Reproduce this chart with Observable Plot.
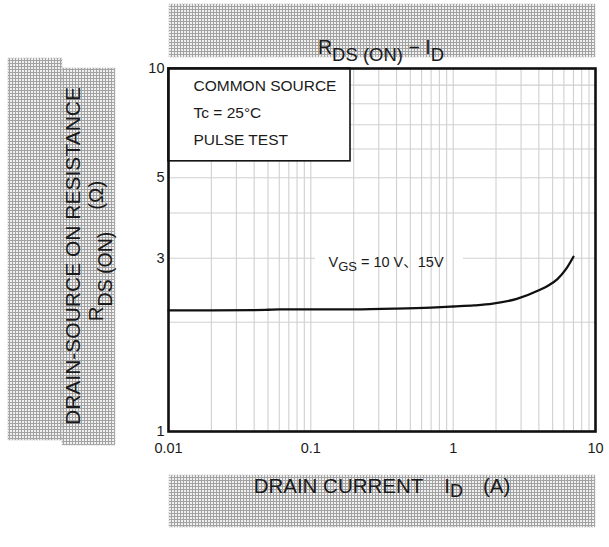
<!DOCTYPE html>
<html>
<head>
<meta charset="utf-8">
<script src="https://cdn.jsdelivr.net/npm/d3@7"></script>
<script src="https://cdn.jsdelivr.net/npm/@observablehq/plot@0.6"></script>
<style>
  html, body { margin: 0; padding: 0; background: #fff; }
  #chart { width: 609px; height: 547px; }
</style>
</head>
<body>
<div id="chart"></div>
<script>
// ---- data ----
const drainCurrent = [0.01, 0.02, 0.04, 0.05, 0.06, 0.1, 0.2, 0.4, 0.7, 1, 1.4, 1.9, 2.8, 4, 4.7, 5.4, 6.2, 7];
const rdsOn        = [2.155, 2.155, 2.16, 2.165, 2.17, 2.17, 2.17, 2.18, 2.195, 2.21, 2.225, 2.25, 2.32, 2.45, 2.53, 2.63, 2.8, 3.03];

const xTickValues = [0.01, 0.1, 1, 10];
const yTickValues = [1, 3, 5, 10];
const xGridValues = [0.02, 0.03, 0.04, 0.05, 0.06, 0.07, 0.08, 0.09, 0.1,
                     0.2, 0.3, 0.4, 0.5, 0.6, 0.7, 0.8, 0.9, 1,
                     2, 3, 4, 5, 6, 7, 8, 9];
const yGridValues = [2, 3, 4, 5, 6, 7, 8, 9];

const conditionLines = ["COMMON SOURCE", "Tc = 25°C", "PULSE TEST"];
const curveLabel = "VGS = 10 V、15V";
const conditionBox = [{x1: 0.01, x2: 0.19, y1: 5.55, y2: 10}];
const labelGap = [{x1: 0.108, x2: 1.18, y1: 2.95, y2: 3.05}];
const curveLabelAt = [{x: 0.133, y: 2.835}];

const points = drainCurrent.map((x, i) => ({x, y: rdsOn[i]}));

const FONT = "'Liberation Sans', Arial, 'Noto Sans CJK JP', sans-serif";
const GRID = "#d0d0d0";

const svg = Plot.plot({
  width: 609,
  height: 547,
  marginLeft: 168,
  marginRight: 14,
  marginTop: 68,
  marginBottom: 116,
  style: {fontFamily: FONT, fontSize: "14.5px", color: "#1a1a1a", background: "#fff"},
  x: {type: "log", domain: [0.01, 10]},
  y: {type: "log", domain: [1, 10]},
  marks: [
    Plot.ruleY(yGridValues, {stroke: GRID, strokeWidth: 1.1}),
    Plot.rect(labelGap, {x1: "x1", x2: "x2", y1: "y1", y2: "y2", fill: "#fff"}),
    Plot.ruleX(xGridValues, {stroke: GRID, strokeWidth: 1.1}),
    Plot.rect(conditionBox, {x1: "x1", x2: "x2", y1: "y1", y2: "y2", fill: "#fff", stroke: "#111", strokeWidth: 1.6}),
    Plot.text([conditionLines.join("\n")], {
      frameAnchor: "top-left", dx: 25, dy: 4, textAnchor: "start", lineAnchor: "top",
      lineHeight: 1.72, fontSize: 15.5, fill: "#1a1a1a"
    }),
    Plot.text(curveLabelAt, {x: "x", y: "y", text: () => curveLabel, textAnchor: "start", lineAnchor: "bottom",
      fontSize: 14.5, fill: "#1a1a1a", className: "vgs-label"}),
    Plot.line(points, {x: "x", y: "y", curve: "monotone-x", stroke: "#111", strokeWidth: 2.3}),
    Plot.axisX({ticks: xTickValues, tickSize: 0, tickPadding: 11, tickFormat: d => String(d), fontSize: 14.5, label: null}),
    Plot.axisY({ticks: yTickValues, tickSize: 0, tickPadding: 4, tickFormat: d => String(d), fontSize: 14.5, label: null}),
    Plot.frame({stroke: "#111", strokeWidth: 2.6})
  ]
});

document.getElementById("chart").appendChild(svg);

// ---- decorations: hatched banners and axis titles ----
const s = d3.select(svg);
const banners = s.insert("g", ":first-child");
const defs = s.insert("defs", ":first-child");
const pat = defs.append("pattern").attr("id", "hatch")
  .attr("patternUnits", "userSpaceOnUse").attr("width", 3).attr("height", 3);
pat.append("rect").attr("width", 3).attr("height", 3).attr("fill", "#f0f0f0");
pat.append("path").attr("d", "M0,0.5H3M0.5,0V3").attr("stroke", "#a2a2a2").attr("stroke-width", 1);

const bannerBoxes = [
  [169, 4, 426, 53],
  [169, 475, 426, 52],
  [8, 58, 54, 382],
  [62, 68, 53, 377]
];
bannerBoxes.forEach(([x, y, w, h]) => {
  banners.append("rect").attr("x", x).attr("y", y).attr("width", w).attr("height", h)
    .attr("fill", "url(#hatch)").attr("stroke", "#bdbdbd").attr("stroke-width", 0.8)
    .attr("stroke-dasharray", "1.5,1");
});

function rich(sel, parts) {
  let off = 0;
  parts.forEach(([t, opt]) => {
    const ts = sel.append("tspan").text(t);
    const want = opt && opt.shift ? opt.shift : 0;
    if (want !== off) { ts.attr("dy", want - off); off = want; }
    if (opt && opt.size) ts.attr("font-size", opt.size);
    if (opt && opt.dx) ts.attr("dx", opt.dx);
  });
}

const labels = s.append("g").attr("font-family", FONT).attr("fill", "#1a1a1a");

// title
rich(labels.append("text").attr("x", 381).attr("y", 54).attr("text-anchor", "middle").attr("font-size", 19.5),
  [["R"], ["DS (ON)", {shift: 7, size: 18.5}], [" − I"], ["D", {shift: 7, size: 18.5}]]);

// x axis title
rich(labels.append("text").attr("x", 382).attr("y", 493).attr("text-anchor", "middle").attr("font-size", 20.5),
  [["DRAIN CURRENT"], ["I", {dx: 21}], ["D", {shift: 4, size: 18}], ["(A)", {dx: 20}]]);

// y axis titles
labels.append("text").attr("transform", "translate(80,256) rotate(-90)")
  .attr("text-anchor", "middle").attr("font-size", 21).text("DRAIN-SOURCE ON RESISTANCE");
rich(labels.append("text").attr("transform", "translate(103,251) rotate(-90)")
  .attr("text-anchor", "middle").attr("font-size", 20.5),
  [["R"], ["DS (ON)", {shift: 9, size: 19.5}], ["(Ω)", {dx: 22}]]);

// curve label with subscript
const vgs = s.select(".vgs-label text");
if (!vgs.empty()) {
  vgs.text(null);
  rich(vgs, [["V"], ["GS", {shift: 3.5, size: 13}], [" = 10 V、15V"]]);
}
</script>
</body>
</html>
